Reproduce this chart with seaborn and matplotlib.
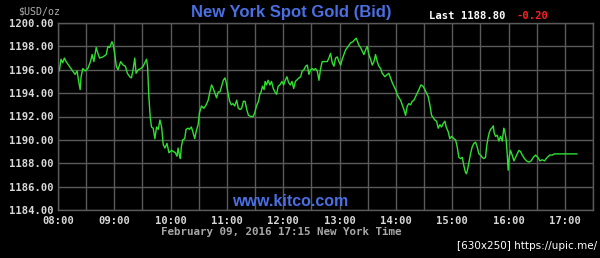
import numpy as np
import pandas as pd
import matplotlib
matplotlib.use("Agg")
import matplotlib.pyplot as plt
import seaborn as sns

# minutes after 08:00 and bid prices (four stretches)
min_a = [0, 1.4, 3.2, 5, 6.8, 8.6, 12.1, 15.7, 18.2, 20.4, 21.8, 23.6, 24.6, 26.4, 28.9,
         31.8, 34.6, 36.4, 38.2, 40.7, 42.5, 44.3, 47.9, 51.4, 53.2, 55, 57.5, 58.9, 60.4, 62.1,
         63.9, 66.8, 69.3, 71.8, 73.9, 76.4, 78.2, 80, 81.8, 83.2, 85.4, 88.2, 90.7, 92.5, 94.3,
         95.4, 96.8, 98.2, 99.6, 101.4, 103.2, 105, 106.8, 108.6, 110.4, 112.1, 113.9, 116.1, 118.2, 121.1]
bid_a = [1196.0, 1195.9, 1196.9, 1196.6, 1197.0, 1196.7, 1196.3, 1195.9, 1195.6, 1195.9,
         1195.1, 1194.3, 1195.4, 1196.1, 1195.9, 1196.1, 1196.7, 1197.3, 1196.7, 1197.9,
         1197.4, 1197.0, 1197.1, 1197.3, 1198.0, 1197.9, 1198.4, 1198.1, 1197.4, 1196.3,
         1196.0, 1196.7, 1196.4, 1196.3, 1195.7, 1195.4, 1195.3, 1196.0, 1197.0, 1195.7,
         1196.0, 1196.1, 1196.3, 1196.6, 1196.9, 1196.3, 1193.7, 1192.0, 1191.1, 1191.0,
         1190.1, 1191.1, 1190.9, 1191.7, 1191.1, 1189.6, 1189.3, 1189.7, 1188.9, 1189.1]

min_b = [125, 126.8, 127.9, 129.3, 130.4, 131.4, 132.9, 135, 136.4, 138.6, 140, 142.1, 143.6,
         145.7, 147.1, 149.3, 150.7, 152.9, 155.4, 157.9, 160, 161.8, 163.6, 165.4, 167.1, 168.9,
         170.7, 172.5, 174.3, 176.1, 177.9, 179.3, 181.1, 182.9, 184.6, 186.4, 188.2, 190.4,
         192.1, 193.9, 195.7, 197.5, 199.3, 201.1, 202.9, 205.4, 207.9, 209.6, 211.4, 213.6,
         215, 216.4, 217.9, 219.6, 220.7, 222.1, 223.9, 225.7, 227.5, 229.3, 231.1, 232.9,
         234.6, 236.4, 238.6, 240.4, 242.1, 243.9, 245.7, 247.5, 249.3, 251.1, 252.9]
bid_b = [1188.9, 1188.6, 1189.3, 1188.7, 1188.4, 1189.4, 1190.0, 1190.1, 1190.9, 1191.0,
         1190.9, 1191.1, 1190.7, 1190.1, 1190.7, 1191.3, 1192.3, 1192.9, 1192.7, 1193.0,
         1193.4, 1194.1, 1194.7, 1194.4, 1194.0, 1193.6, 1194.1, 1194.1, 1194.6, 1195.1,
         1195.3, 1194.9, 1194.0, 1193.3, 1193.0, 1193.1, 1192.9, 1193.4, 1192.7, 1192.6,
         1192.7, 1193.3, 1193.3, 1192.6, 1192.1, 1192.0, 1192.0, 1192.3, 1192.9, 1193.3,
         1193.9, 1194.1, 1194.6, 1194.3, 1195.0, 1194.7, 1195.1, 1194.7, 1195.0, 1194.4,
         1194.1, 1193.9, 1194.6, 1194.7, 1195.0, 1194.7, 1195.1, 1195.4, 1194.9, 1194.7,
         1195.0, 1194.4, 1195.0]

min_c = [256.7, 258.5, 260.2, 262, 263.8, 265.6, 267.3, 269.1, 270.9, 272.7, 274.4, 276.2,
         278, 279.8, 281.5, 284.4, 286.9, 288.6, 290.4, 292.2, 294, 295.7, 297.5, 299.3, 301.1,
         302.8, 304.6, 306.4, 309.2, 311.7, 314.2, 316.3, 317.7, 319.2, 320.6, 322.4, 324.1,
         325.9, 327.7, 329.5, 331.2, 333, 334.8, 336.6, 338.3, 340.1, 341.9, 343.7, 345.4,
         348.3, 350.8, 352.5, 354.3, 356.1, 357.9, 359.6, 361.4, 363.2, 365, 366.7, 368.5,
         370.3, 372.1, 373.8, 375.6, 377.4, 379.2, 380.9, 382.7, 384.5, 386.6, 388.8, 390.9,
         392.7, 394.4, 396.2, 398, 399.8, 401.5, 403.3, 405.1, 406.9, 408.6, 410.4, 412.2,
         413.6, 415.7, 417.5, 419.3]
bid_c = [1195.3, 1195.4, 1195.9, 1196.0, 1196.3, 1196.4, 1195.6, 1196.0, 1196.1, 1196.0,
         1196.1, 1195.9, 1195.1, 1196.1, 1196.7, 1196.7, 1196.7, 1197.0, 1197.4, 1196.6,
         1196.3, 1197.0, 1197.1, 1196.7, 1196.4, 1196.9, 1197.3, 1197.7, 1198.0, 1198.3,
         1198.4, 1198.6, 1198.7, 1198.4, 1198.1, 1197.9, 1197.6, 1197.3, 1197.7, 1198.0,
         1197.3, 1196.9, 1196.4, 1196.7, 1197.3, 1196.7, 1196.3, 1196.1, 1195.7, 1195.4,
         1195.6, 1195.7, 1195.3, 1194.9, 1194.6, 1194.3, 1193.9, 1193.6, 1193.4, 1193.0,
         1192.6, 1192.1, 1192.9, 1193.1, 1193.0, 1193.3, 1193.4, 1193.7, 1194.0, 1194.3,
         1194.7, 1194.6, 1194.3, 1194.0, 1193.7, 1193.0, 1192.1, 1191.9, 1191.7, 1191.6,
         1191.0, 1191.3, 1191.1, 1191.4, 1191.6, 1191.1, 1190.7, 1190.1, 1190.3]

min_d = [421.8, 423.6, 425.3, 427.1, 428.9, 430.7, 432.4, 434.2, 435.3, 436.7, 438.1, 439.5,
         441.3, 443.1, 444.9, 446.6, 448.4, 450.2, 452, 453.7, 455.5, 456.6, 458, 459.4, 460.8,
         462.2, 463.7, 464.7, 466.2, 467.9, 469.7, 471.5, 473.3, 475, 476.1, 477.5, 478.6,
         479.6, 480.7, 482.1, 483.9, 485.7, 487.5, 489.2, 491, 492.8, 494.6, 497, 499.2, 501.7,
         504.1, 506.3, 508.8, 511.2, 513.4, 515.9, 518.3, 521.2, 524, 526.5, 529, 531.8, 534.7,
         537.2, 540.7, 546, 553]
bid_d = [1190.1, 1190.0, 1189.4, 1188.5, 1188.4, 1188.5, 1187.8, 1187.2, 1187.1, 1187.6,
         1188.2, 1188.8, 1189.4, 1189.7, 1189.8, 1189.4, 1188.8, 1188.7, 1188.5, 1188.4,
         1188.5, 1189.4, 1190.1, 1190.6, 1190.9, 1191.0, 1191.2, 1190.6, 1190.3, 1190.4,
         1189.9, 1190.3, 1189.9, 1191.0, 1190.7, 1190.0, 1188.8, 1187.4, 1188.5, 1189.1,
         1188.7, 1188.2, 1188.5, 1188.8, 1189.1, 1189.0, 1188.7, 1188.4, 1188.2, 1188.1,
         1188.2, 1188.5, 1188.7, 1188.5, 1188.2, 1188.3, 1188.2, 1188.5, 1188.7, 1188.7,
         1188.8, 1188.8, 1188.8, 1188.8, 1188.8, 1188.8, 1188.8]

x_ticks = [8, 9, 10, 11, 12, 13, 14, 15, 16, 17]
x_labels = ["08:00", "09:00", "10:00", "11:00", "12:00", "13:00", "14:00", "15:00", "16:00", "17:00"]
y_ticks = [1184, 1186, 1188, 1190, 1192, 1194, 1196, 1198, 1200]
y_labels = ["1184.00", "1186.00", "1188.00", "1190.00", "1192.00", "1194.00", "1196.00", "1198.00", "1200.00"]

title = "New York Spot Gold (Bid)"
last_txt = "Last 1188.80"
chg_txt = "-0.20"
unit_txt = "$USD/oz"
date_txt = "February 09, 2016 17:15 New York Time"
brand_txt = "www.kitco.com"
watermark = "[630x250] https://upic.me/"

minutes = min_a + min_b + min_c + min_d
bids = bid_a + bid_b + bid_c + bid_d
df = pd.DataFrame({"hour": 8 + np.array(minutes) / 60.0, "bid": bids})

sns.set_theme(style="dark")
plt.rcParams["font.family"] = ["DejaVu Sans"]

BG = "#000000"
GRID = "#5a5a5a"
TXT = "#d8d8d8"
BLUE = "#4a6fe3"
GREEN = "#30e030"
mono = "DejaVu Sans Mono"

fig = plt.figure(figsize=(6.0, 2.58), dpi=100, facecolor=BG)
ax = fig.add_axes([58 / 600, 1 - 210 / 258, (593 - 58) / 600, (210 - 23) / 258])
ax.set_facecolor(BG)

sns.lineplot(data=df, x="hour", y="bid", ax=ax, color=GREEN, linewidth=1.0,
             estimator=None, sort=False)

ax.set_xlim(8, 17.5)
ax.set_ylim(1184, 1200)
ax.set_xticks(x_ticks)
ax.set_xticklabels(x_labels)
ax.set_xticks(np.arange(8.5, 17.51, 1.0), minor=True)
ax.set_yticks(y_ticks)
ax.set_yticklabels(y_labels)
ax.grid(True, which="both", color=GRID, linewidth=1.0)
ax.set_axisbelow(True)
ax.tick_params(axis="both", which="both", length=0, colors=TXT, labelsize=7.6)
ax.tick_params(axis="x", pad=4.5)
ax.tick_params(axis="y", pad=3.5)
for lab in ax.get_xticklabels() + ax.get_yticklabels():
    lab.set_fontfamily(mono)
    lab.set_fontweight("bold")
    lab.set_color(TXT)
ax.set_xlabel("")
ax.set_ylabel("")
for s in ax.spines.values():
    s.set_visible(True)
    s.set_color(GRID)
    s.set_linewidth(1.0)

fig.text(291 / 600, 1 - 13 / 258, title, color=BLUE, fontsize=12, fontweight="bold",
         family="Liberation Sans", ha="center", va="center")
fig.text(429 / 600, 1 - 16 / 258, last_txt, color="#ffffff", fontsize=7.6, fontweight="bold",
         family=mono, ha="left", va="center")
fig.text(517 / 600, 1 - 16 / 258, chg_txt, color="#ff2020", fontsize=7.6, fontweight="bold",
         family=mono, ha="left", va="center")
fig.text(18 / 600, 1 - 11 / 258, unit_txt, color="#b0b0b0", fontsize=7.2,
         family=mono, ha="left", va="center")
fig.text(281 / 600, 1 - 231.5 / 258, date_txt, color="#a8a8a8", fontsize=7.8, fontweight="bold",
         family=mono, ha="center", va="center")
fig.text(290 / 600, 1 - 202 / 258, brand_txt, color=BLUE, fontsize=11.5, fontweight="bold",
         family="Liberation Sans", ha="center", va="center")
fig.text(597 / 600, 1 - 246 / 258, watermark, color="#ffffff", fontsize=7.5,
         family="DejaVu Sans", ha="right", va="center")

fig.savefig("out.png", dpi=100, facecolor=BG)
